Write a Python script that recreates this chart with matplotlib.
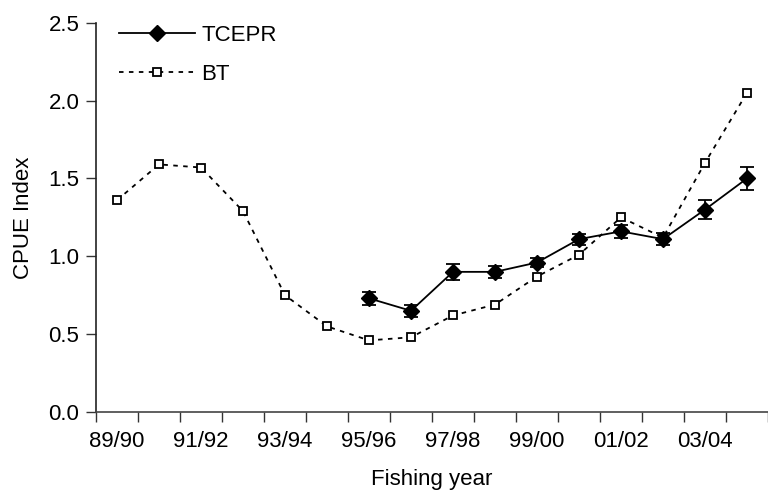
import matplotlib
matplotlib.use("Agg")
import matplotlib.pyplot as plt
from matplotlib.lines import Line2D
import numpy as np

years = ["89/90", "90/91", "91/92", "92/93", "93/94", "94/95", "95/96", "96/97",
         "97/98", "98/99", "99/00", "00/01", "01/02", "02/03", "03/04", "04/05"]
bt = [1.36, 1.59, 1.57, 1.29, 0.75, 0.55, 0.46, 0.48,
      0.62, 0.69, 0.87, 1.01, 1.25, 1.12, 1.60, 2.05]
tcepr_years = ["95/96", "96/97", "97/98", "98/99", "99/00", "00/01",
               "01/02", "02/03", "03/04", "04/05"]
tcepr = [0.73, 0.65, 0.90, 0.90, 0.96, 1.11, 1.16, 1.11, 1.30, 1.50]
tcepr_err = [0.04, 0.04, 0.05, 0.04, 0.03, 0.035, 0.04, 0.04, 0.06, 0.075]

plt.rcParams['font.family'] = ['Liberation Sans', 'DejaVu Sans']
plt.rcParams['font.size'] = 16

fig = plt.figure(figsize=(7.68, 5.04), dpi=100)
ax = fig.add_axes([0.125, 0.1825, 0.875, 0.7725])

x_all = np.arange(len(years))
x_tc = np.array([years.index(y) for y in tcepr_years])

tc_style = dict(color='black', lw=1.3, marker='D', markersize=8.5)
bt_style = dict(color='black', lw=1.3, linestyle=(0, (2.5, 3)),
                marker='s', markersize=6, markerfacecolor='white',
                markeredgecolor='black', markeredgewidth=1.3)

ax.errorbar(x_tc, tcepr, yerr=tcepr_err, capsize=5, capthick=1.3,
            elinewidth=1.3, zorder=3, **tc_style)
ax.plot(x_all, bt, zorder=2, **bt_style)

ax.set_xlim(-0.5, 15.28)
ax.set_ylim(0, 2.5)
ax.set_yticks(np.arange(0, 2.51, 0.5))
ax.set_yticklabels([f"{v:.1f}" for v in np.arange(0, 2.51, 0.5)])
ax.set_xticks(x_all[::2])
ax.set_xticklabels(years[::2])
ax.set_xticks(np.arange(-0.5, 16, 1), minor=True)
ax.tick_params(axis='x', which='major', length=0, pad=14)
ax.tick_params(axis='x', which='minor', length=7, width=1, color='#333333', direction='out')
ax.tick_params(axis='y', length=7, width=1, color='#333333', direction='out', pad=5)

for s in ['top', 'right']:
    ax.spines[s].set_visible(False)
ax.spines['left'].set_color('#222222')
ax.spines['bottom'].set_color('#444444')
ax.spines['left'].set_linewidth(1.2)
ax.spines['bottom'].set_linewidth(1.2)

ax.set_xlabel("Fishing year", labelpad=12)
ax.set_ylabel("CPUE Index", labelpad=10)

handles = [Line2D([], [], **tc_style), Line2D([], [], **bt_style)]
ax.legend(handles, ["TCEPR", "BT"], loc='upper left', bbox_to_anchor=(0.005, 1.045),
          frameon=False, handlelength=3.4, handletextpad=0.3,
          labelspacing=0.8, fontsize=16)

fig.savefig("out.png", dpi=100)
